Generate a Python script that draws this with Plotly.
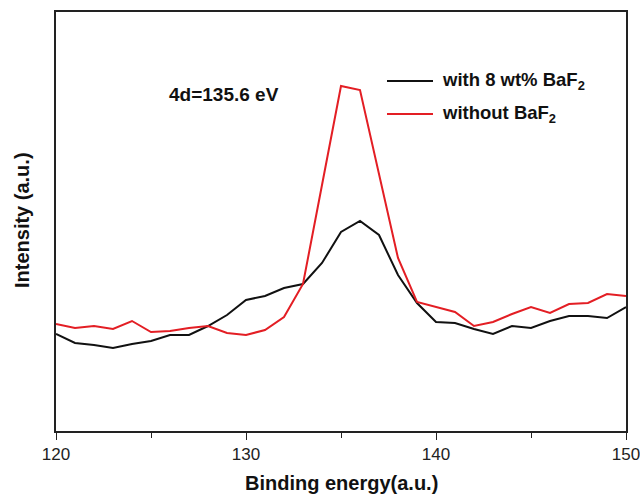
import plotly.graph_objects as go

energy = list(range(120, 151))
with_baf2 = [97, 88, 86, 83, 87, 90, 96, 96, 105, 116, 131, 135, 143, 147, 168, 199,
             210, 196, 156, 128, 109, 108, 102, 97, 105, 103, 110, 115, 115, 113, 124]
without_baf2 = [107, 103, 105, 102, 110, 99, 100, 103, 105, 98, 96, 101, 114, 147, 246, 345,
                341, 256, 173, 129, 124, 119, 105, 109, 117, 124, 118, 127, 128, 137, 135]
x_ticks = [120, 130, 140, 150]
series_names = ["with 8 wt% BaF<sub>2</sub>", "without BaF<sub>2</sub>"]
series_colors = ["#111111", "#e31e24"]

FONT = "Liberation Sans, Arial, sans-serif"

fig = go.Figure()
for ys, name, col in zip([with_baf2, without_baf2], series_names, series_colors):
    fig.add_trace(go.Scatter(x=energy, y=ys, mode="lines", name=name,
                             line=dict(color=col, width=2), showlegend=False))

# legend drawn manually (longer swatches, as in the reference)
legend_rows_y = [0.8353, 0.7565]
for yy, name, col in zip(legend_rows_y, series_names, series_colors):
    fig.add_shape(type="line", xref="paper", yref="paper", x0=0.5807, x1=0.6614,
                  y0=yy, y1=yy, line=dict(color=col, width=2))
    fig.add_annotation(x=0.6737, y=yy, xref="paper", yref="paper", xanchor="left",
                       yanchor="middle", text="<b>" + name + "</b>", showarrow=False,
                       font=dict(family=FONT, size=18.5, color="#111111"))

fig.add_annotation(x=0.2939, y=0.802, xref="paper", yref="paper", xanchor="center",
                   yanchor="middle", text="<b>4d=135.6 eV</b>",
                   showarrow=False, font=dict(family=FONT, size=19, color="#111111"))

# axis titles
fig.add_annotation(x=0.5, y=-0.1241, xref="paper", yref="paper", xanchor="center",
                   yanchor="middle", text="<b>Binding energy(a.u.)</b>", showarrow=False,
                   font=dict(family=FONT, size=20, color="#111111"))
fig.add_annotation(x=-0.0596, y=0.5036, xref="paper", yref="paper", textangle=-90,
                   xanchor="center", yanchor="middle",
                   text="<b>Intensity (a.u.)</b>", showarrow=False,
                   font=dict(family=FONT, size=20, color="#111111"))

fig.update_layout(
    width=640, height=497,
    margin=dict(l=56, r=14, t=12, b=66),
    paper_bgcolor="white", plot_bgcolor="white",
    font=dict(family=FONT, color="#222222"),
    showlegend=False,
    xaxis=dict(range=[120, 150], tickvals=x_ticks, ticktext=[str(t) for t in x_ticks],
               automargin=False, ticklabeloverflow="allow",
               showline=True, linecolor="#222222", linewidth=1.5, mirror=True,
               ticks="outside", ticklen=7, tickwidth=1.2, tickcolor="#222222",
               minor=dict(tickvals=[125, 135, 145], ticks="outside", ticklen=5,
                          tickwidth=1.2, tickcolor="#222222"),
               showgrid=False, zeroline=False,
               tickfont=dict(family=FONT, size=17, color="#222222")),
    yaxis=dict(range=[0, 419], automargin=False, showline=True, linecolor="#222222",
               linewidth=1.5, mirror=True, showticklabels=False, ticks="",
               showgrid=False, zeroline=False),
)

fig.write_html("out.html")
